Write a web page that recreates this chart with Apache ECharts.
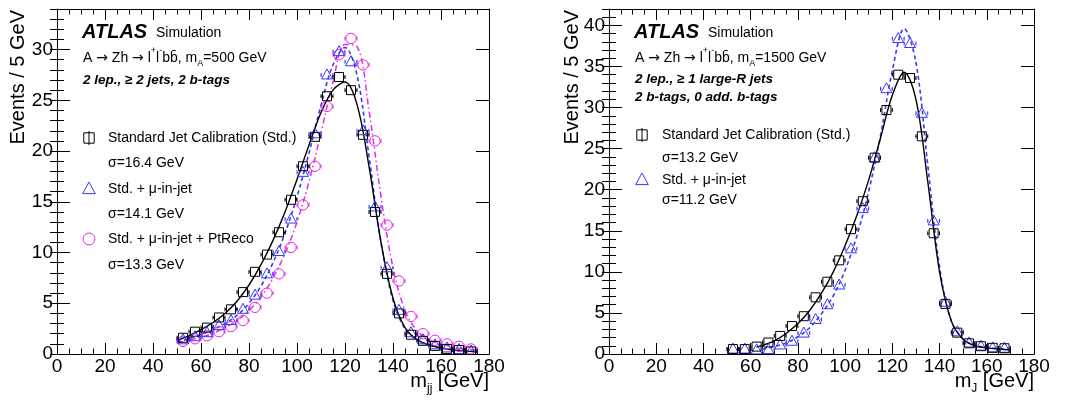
<!DOCTYPE html>
<html><head><meta charset="utf-8">
<script src="https://cdn.jsdelivr.net/npm/echarts@6/dist/echarts.min.js"></script>
<style>html,body{margin:0;padding:0;background:#fff}#c{width:1071px;height:400px}</style>
</head><body><div id="c"></div>
<script>
// ---------------- data ----------------
const xTickLabels = [0, 20, 40, 60, 80, 100, 120, 140, 160, 180];
const yTicksL = [0, 5, 10, 15, 20, 25, 30];
const yTicksR = [0, 5, 10, 15, 20, 25, 30, 35, 40];

// left panel (m_A = 500 GeV), bin centres (5 GeV bins)
const binsL = [52.5, 57.5, 62.5, 67.5, 72.5, 77.5, 82.5, 87.5, 92.5, 97.5, 102.5, 107.5, 112.5, 117.5, 122.5, 127.5, 132.5, 137.5, 142.5, 147.5, 152.5, 157.5, 162.5, 167.5, 172.5];
const stdL = [1.6, 2.2, 2.6, 3.6, 4.4, 6.1, 8.1, 9.8, 12.0, 15.2, 18.5, 21.4, 25.4, 27.3, 26.0, 21.6, 14.0, 7.9, 4.0, 1.9, 1.3, 0.8, 0.5, 0.4, 0.25];
const muL  = [1.4, 1.7, 2.1, 2.8, 3.3, 4.4, 5.8, 7.9, 10.1, 13.3, 17.9, 21.7, 27.5, 29.8, 28.8, 22.0, 14.5, 8.5, 4.3, 2.1, 1.4, 0.9, 0.6, 0.45, 0.3];
const ptL  = [1.25, 1.5, 1.8, 2.2, 2.7, 3.3, 4.6, 6.0, 7.9, 10.5, 14.7, 18.5, 24.4, 29.5, 31.1, 28.5, 21.0, 12.7, 7.2, 3.7, 2.0, 1.35, 1.0, 0.75, 0.5];
// fitted curves
const fitXL   = [50, 55, 60, 65, 70, 75, 80, 85, 90, 95, 100, 105, 110, 115, 120, 125, 130, 135, 140, 145, 150, 155, 160, 165, 170, 175];
const fitStdL = [1.3, 1.8, 2.4, 3.1, 4.0, 5.2, 6.8, 8.8, 11.2, 14.0, 17.2, 20.6, 23.8, 26.0, 26.8, 24.6, 18.5, 11.0, 5.5, 2.6, 1.4, 0.9, 0.6, 0.4, 0.3, 0.2];
const fitMuL  = [1.2, 1.5, 1.9, 2.4, 3.0, 3.8, 5.0, 6.7, 9.0, 11.9, 15.5, 19.8, 24.5, 28.5, 30.2, 27.5, 19.5, 11.0, 5.3, 2.5, 1.4, 0.9, 0.6, 0.45, 0.3, 0.25];
const fitPtL  = [1.1, 1.35, 1.65, 2.05, 2.6, 3.3, 4.3, 5.6, 7.5, 9.9, 13.0, 17.0, 21.8, 26.8, 30.5, 30.3, 24.0, 15.5, 8.5, 4.3, 2.3, 1.4, 1.0, 0.7, 0.5, 0.4];

// right panel (m_A = 1500 GeV)
const binsR = [52.5, 57.5, 62.5, 67.5, 72.5, 77.5, 82.5, 87.5, 92.5, 97.5, 102.5, 107.5, 112.5, 117.5, 122.5, 127.5, 132.5, 137.5, 142.5, 147.5, 152.5, 157.5, 162.5, 167.5];
const stdR = [0.6, 0.6, 0.9, 1.4, 2.2, 3.4, 4.6, 6.9, 8.8, 11.4, 15.2, 18.6, 23.9, 29.7, 34.0, 33.6, 26.5, 14.7, 6.1, 2.6, 1.3, 0.95, 0.75, 0.7];
const muR  = [0.6, 0.6, 0.5, 0.55, 1.1, 1.55, 2.55, 4.2, 6.0, 8.4, 12.8, 17.7, 23.9, 32.3, 38.4, 37.8, 29.3, 16.2, 6.3, 2.7, 1.35, 0.95, 0.75, 0.7];
const fitXStdR = [62.5, 65, 70, 75, 80, 85, 90, 95, 100, 105, 110, 115, 120, 125, 130, 135, 140, 145, 150, 155, 160, 165, 170];
const fitStdR  = [0.85, 1.05, 1.6, 2.5, 3.7, 5.3, 7.4, 10.0, 13.2, 16.9, 21.2, 26.3, 31.5, 34.3, 31.0, 21.0, 10.0, 4.0, 1.8, 1.0, 0.75, 0.6, 0.5];
const fitXMuR  = [65, 70, 75, 80, 85, 90, 95, 100, 105, 110, 115, 120, 125, 130, 135, 140, 145, 150, 155, 160, 165, 170];
const fitMuR   = [0.6, 0.9, 1.35, 2.1, 3.2, 4.9, 7.1, 10.2, 14.4, 19.8, 26.6, 34.5, 39.6, 35.5, 23.0, 10.6, 4.0, 1.8, 1.05, 0.8, 0.65, 0.55];

// ---------------- styling ----------------
const FONT = 'Liberation Sans, Arial, Helvetica, sans-serif';
const BLACK = '#000000', BLUE = '#3838f8', MAG = '#e928e9';
const LBL = 19;

const chart = echarts.init(document.getElementById('c'), null, {renderer: 'canvas'});

const grids = [
  {left: 57, top: 9, width: 432, height: 345},
  {left: 609, top: 9, width: 425, height: 345}
];

function xAxes(gi) {
  const base = {
    gridIndex: gi, type: 'value', min: 0, max: 180, interval: 20,
    axisLine: {show: true, onZero: false, lineStyle: {color: BLACK, width: 1}},
    axisTick: {show: true, inside: true, length: 11, lineStyle: {color: BLACK}},
    minorTick: {show: true, splitNumber: 4, length: 5.5, lineStyle: {color: BLACK}},
    splitLine: {show: false}, minorSplitLine: {show: false}
  };
  return [
    Object.assign({}, base, {position: 'bottom',
      axisLabel: {show: true, fontSize: LBL, color: BLACK, fontFamily: FONT, margin: 3,
        customValues: xTickLabels}}),
    Object.assign({}, base, {position: 'top', axisLabel: {show: false}})
  ];
}
function yAxes(gi, ymax, ticks) {
  const main = {
    gridIndex: gi, type: 'value', min: 0, max: ymax, interval: 5,
    axisLine: {show: true, onZero: false, lineStyle: {color: BLACK, width: 1}},
    axisTick: {show: true, inside: true, length: 13, lineStyle: {color: BLACK}, customValues: ticks},
    minorTick: {show: false}, splitLine: {show: false}
  };
  const minor = {
    gridIndex: gi, type: 'value', min: 0, max: ymax, interval: 1,
    axisLine: {show: false}, axisLabel: {show: false},
    axisTick: {show: true, inside: true, length: 7, lineStyle: {color: BLACK}},
    minorTick: {show: false}, splitLine: {show: false}
  };
  return [
    Object.assign({}, main, {position: 'left',
      axisLabel: {show: true, fontSize: LBL, color: BLACK, fontFamily: FONT, margin: 4,
        customValues: ticks}}),
    Object.assign({}, minor, {position: 'left'}),
    Object.assign({}, main, {position: 'right', axisLabel: {show: false}}),
    Object.assign({}, minor, {position: 'right'})
  ];
}

function drawMarker(shape, cx, cy, color, s) {
  s = s || 1;
  const st = {stroke: color, fill: 'transparent', lineWidth: 1};
  if (shape === 'square') return {type: 'rect', shape: {x: cx - 4.5 * s, y: cy - 4.5 * s, width: 9 * s, height: 9 * s}, style: st};
  if (shape === 'triangle') return {type: 'polygon', shape: {points: [[cx, cy - 6 * s], [cx - 5.5 * s, cy + 4 * s], [cx + 5.5 * s, cy + 4 * s]]}, style: st};
  return {type: 'circle', shape: {cx: cx, cy: cy, r: 5.2 * s}, style: st};
}

function pointSeries(name, xs, ys, color, shape, xi, yi) {
  return {
    type: 'custom', name: name, xAxisIndex: xi, yAxisIndex: yi, clip: true, z: 5,
    data: xs.map((x, i) => [x, ys[i]]),
    renderItem: function (params, api) {
      const x = api.value(0), y = api.value(1);
      const c = api.coord([x, y]);
      const l = api.coord([x - 2.5, y])[0], r = api.coord([x + 2.5, y])[0];
      const h = 5;
      const st = {stroke: color, lineWidth: 1};
      return {type: 'group', children: [
        {type: 'line', shape: {x1: l, y1: c[1], x2: c[0] - h, y2: c[1]}, style: st},
        {type: 'line', shape: {x1: c[0] + h, y1: c[1], x2: r, y2: c[1]}, style: st},
        {type: 'line', shape: {x1: l, y1: c[1] - 2, x2: l, y2: c[1] + 2}, style: st},
        {type: 'line', shape: {x1: r, y1: c[1] - 2, x2: r, y2: c[1] + 2}, style: st},
        drawMarker(shape, c[0], c[1], color)
      ]};
    }
  };
}
function fitSeries(name, xs, ys, color, dash, width, xi, yi) {
  return {
    type: 'line', name: name, xAxisIndex: xi, yAxisIndex: yi, z: 3,
    data: xs.map((x, i) => [x, ys[i]]),
    showSymbol: false, symbol: 'none', smooth: 0.35, silent: true,
    lineStyle: {color: color, width: width, type: dash}
  };
}

// axis indices: grid0 -> x 0,1 ; y 0..3 ; grid1 -> x 2,3 ; y 4..7
const series = [
  fitSeries('fitPtL', fitXL, fitPtL, MAG, [6, 3, 1.5, 3], 1.5, 0, 0),
  fitSeries('fitMuL', fitXL, fitMuL, BLUE, [4, 3], 1.6, 0, 0),
  fitSeries('fitStdL', fitXL, fitStdL, BLACK, 'solid', 1.4, 0, 0),
  pointSeries('ptL', binsL, ptL, MAG, 'circle', 0, 0),
  pointSeries('muL', binsL, muL, BLUE, 'triangle', 0, 0),
  pointSeries('stdL', binsL, stdL, BLACK, 'square', 0, 0),
  fitSeries('fitMuR', fitXMuR, fitMuR, BLUE, [4, 3], 1.6, 2, 4),
  fitSeries('fitStdR', fitXStdR, fitStdR, BLACK, 'solid', 1.4, 2, 4),
  pointSeries('muR', binsR, muR, BLUE, 'triangle', 2, 4),
  pointSeries('stdR', binsR, stdR, BLACK, 'square', 2, 4)
];

// ---------------- text / legends ----------------
const rich = {
  n: {fontSize: 14, fontFamily: FONT, color: BLACK, lineHeight: 20, verticalAlign: 'bottom'},
  ar: {fontSize: 14, fontFamily: 'DejaVu Sans', color: BLACK, lineHeight: 20, verticalAlign: 'bottom'},
  sup: {fontSize: 9, fontFamily: FONT, color: BLACK, lineHeight: 20, verticalAlign: 'top', padding: [1, 0, 0, 0]},
  sub: {fontSize: 9, fontFamily: FONT, color: BLACK, lineHeight: 20, verticalAlign: 'bottom', padding: [0, 0, -3, 0]}
};
function txt(x, y, text, opts) {
  return {type: 'text', x: x, y: y, silent: true, z: 10,
    style: Object.assign({text: text, fontFamily: FONT, fontSize: 14, fill: BLACK, align: 'left', verticalAlign: 'middle'}, opts || {})};
}
function richTxt(x, y, text) {
  return {type: 'text', x: x, y: y, silent: true, z: 10,
    style: {text: text, rich: rich, align: 'left', verticalAlign: 'middle', fill: BLACK, fontFamily: FONT, fontSize: 14}};
}
function legendIcon(shape, cx, cy, color) {
  const els = [drawMarker(shape, cx, cy, color, 1.15)];
  if (shape === 'square') {
    els.push({type: 'line', shape: {x1: cx, y1: cy - 7, x2: cx, y2: cy + 7}, style: {stroke: color, lineWidth: 1}});
  }
  return {type: 'group', silent: true, z: 10, children: els};
}
const decay500 = '{n|A }{ar|→}{n| Zh }{ar|→}{n| l}{sup|+}{n|l}{sup|-}{n|bb\u0304, m}{sub|A}{n|=500 GeV}';
const decay1500 = '{n|A }{ar|→}{n| Zh }{ar|→}{n| l}{sup|+}{n|l}{sup|-}{n|bb\u0304, m}{sub|A}{n|=1500 GeV}';

const graphics = [
  // left panel
  txt(82, 32, 'ATLAS', {fontSize: 20, fontWeight: 'bold', fontStyle: 'italic'}),
  txt(156, 33, 'Simulation', {fontSize: 14}),
  richTxt(83, 55, decay500),
  txt(83, 80, '2 lep., \u2265 2 jets, 2 b-tags', {fontSize: 13.5, fontWeight: 'bold', fontStyle: 'italic'}),
  legendIcon('square', 89, 138, BLACK),
  txt(108, 138, 'Standard Jet Calibration (Std.)'),
  txt(108, 163, '\u03c3=16.4 GeV'),
  legendIcon('triangle', 89, 189, BLUE),
  txt(108, 189, 'Std. + \u03bc-in-jet'),
  txt(108, 214, '\u03c3=14.1 GeV'),
  legendIcon('circle', 89, 239, MAG),
  txt(108, 239, 'Std. + \u03bc-in-jet + PtReco'),
  txt(108, 265, '\u03c3=13.3 GeV'),
  // right panel
  txt(634, 32, 'ATLAS', {fontSize: 20, fontWeight: 'bold', fontStyle: 'italic'}),
  txt(708, 33, 'Simulation', {fontSize: 14}),
  richTxt(635, 55, decay1500),
  txt(635, 79, '2 lep., \u2265 1 large-R jets', {fontSize: 13.5, fontWeight: 'bold', fontStyle: 'italic'}),
  txt(635, 97, '2 b-tags, 0 add. b-tags', {fontSize: 13.5, fontWeight: 'bold', fontStyle: 'italic'}),
  legendIcon('square', 642, 135, BLACK),
  txt(662, 135, 'Standard Jet Calibration (Std.)'),
  txt(662, 158, '\u03c3=13.2 GeV'),
  legendIcon('triangle', 642, 180, BLUE),
  txt(662, 180, 'Std. + \u03bc-in-jet'),
  txt(662, 200, '\u03c3=11.2 GeV'),
  // axis titles
  {type: 'text', x: 18, y: 10, rotation: Math.PI / 2, silent: true,
    style: {text: 'Events / 5 GeV', fontFamily: FONT, fontSize: 20, fill: BLACK, align: 'right', verticalAlign: 'middle'}},
  {type: 'text', x: 572, y: 10, rotation: Math.PI / 2, silent: true,
    style: {text: 'Events / 5 GeV', fontFamily: FONT, fontSize: 20, fill: BLACK, align: 'right', verticalAlign: 'middle'}},
  {type: 'text', x: 489, y: 383, silent: true,
    style: {text: '{m|m}{s|jj}{m| [GeV]}', align: 'right', verticalAlign: 'middle',
      rich: {m: {fontSize: 20, fontFamily: FONT, color: BLACK, lineHeight: 24, verticalAlign: 'top'},
             s: {fontSize: 12, fontFamily: FONT, color: BLACK, lineHeight: 24, verticalAlign: 'bottom'}}}},
  {type: 'text', x: 1034, y: 383, silent: true,
    style: {text: '{m|m}{s|J}{m| [GeV]}', align: 'right', verticalAlign: 'middle',
      rich: {m: {fontSize: 20, fontFamily: FONT, color: BLACK, lineHeight: 24, verticalAlign: 'top'},
             s: {fontSize: 12, fontFamily: FONT, color: BLACK, lineHeight: 24, verticalAlign: 'bottom'}}}}
];

chart.setOption({
  animation: false,
  backgroundColor: '#ffffff',
  grid: grids,
  xAxis: xAxes(0).concat(xAxes(1)),
  yAxis: yAxes(0, 34, yTicksL).concat(yAxes(1, 42, yTicksR)),
  series: series,
  graphic: graphics
});
</script>
</body></html>
